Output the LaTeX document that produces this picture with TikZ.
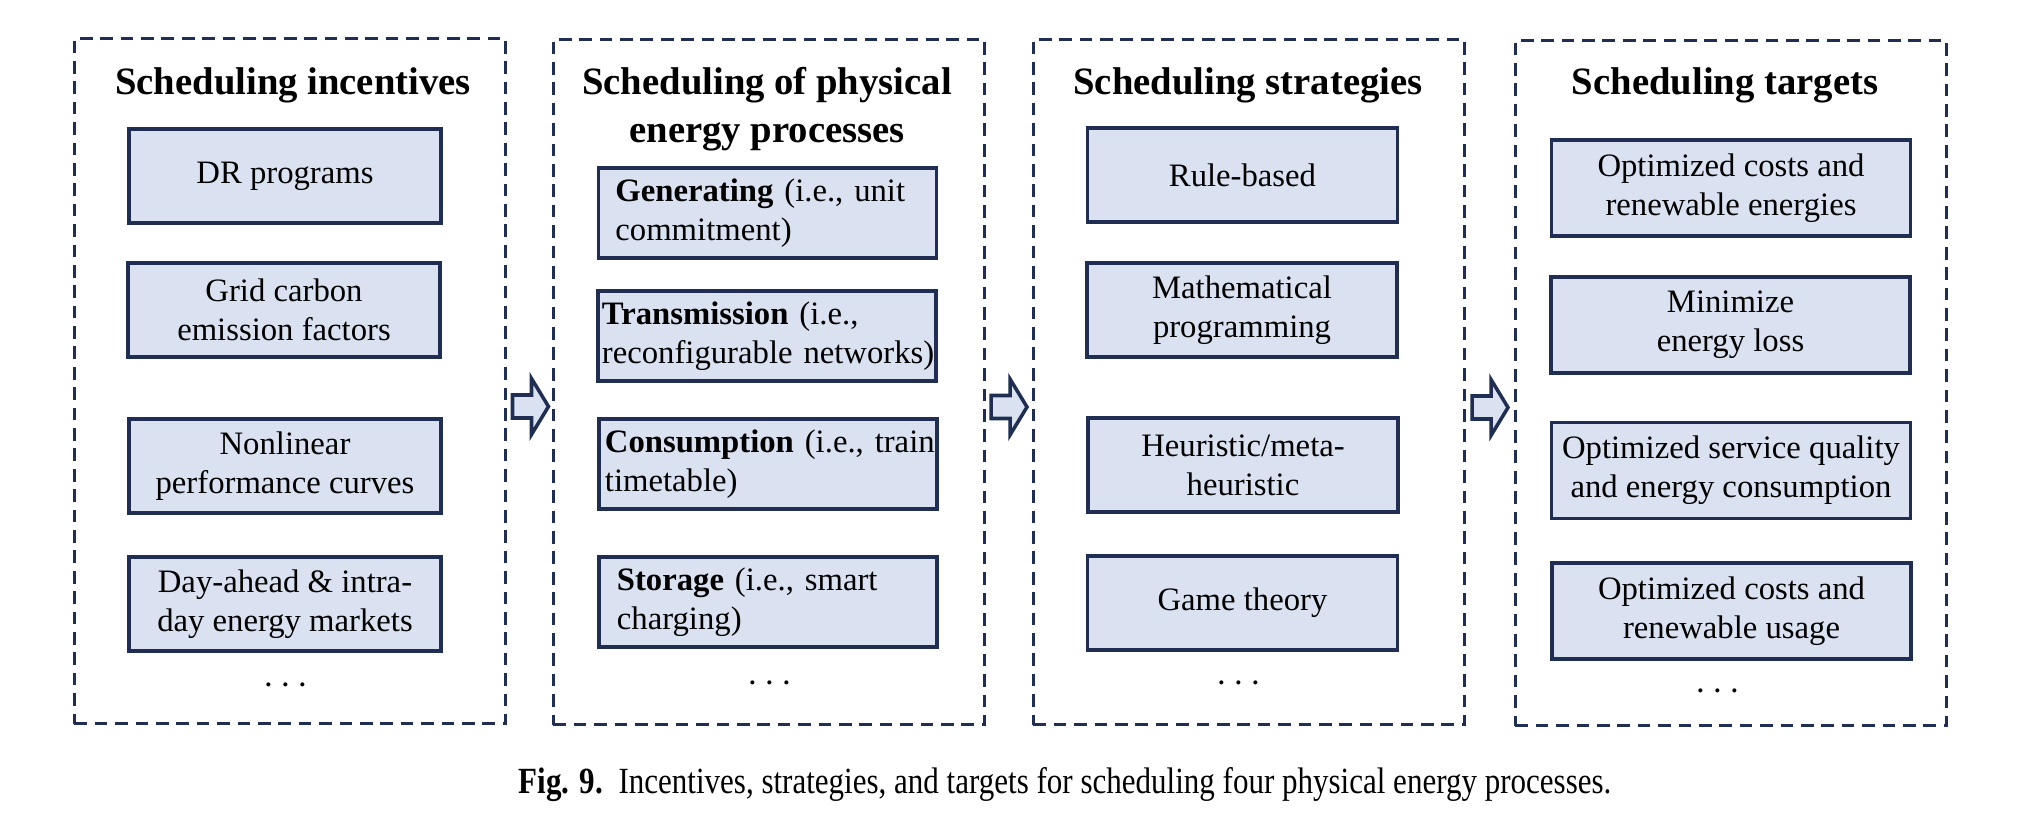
\documentclass[tikz,border=0pt]{standalone}
\usepackage{fontspec}
\setmainfont{Liberation Serif}
\usetikzlibrary{calc}
\definecolor{rahmen}{HTML}{1F2E52}
\definecolor{kasten}{HTML}{DAE2F1}

\begin{document}
\begin{tikzpicture}[x=0.01cm,y=-0.01cm]
  \tikzstyle{feld} = [draw=rahmen, line width=1pt, dash pattern=on 3.6pt off 2.2pt, minimum width=4.31cm, minimum height=6.85cm, anchor=center]
  \tikzstyle{titel} = [font=\fontsize{11}{13.5}\selectfont\bfseries, align=center, anchor=center]
  \tikzstyle{box} = [draw=rahmen, fill=kasten, line width=1pt, align=center, anchor=center, font=\fontsize{9.3}{11}\selectfont, inner sep=0pt]
  \tikzset{pbox/.style={box, align=left, text width=3.36cm, inner xsep=0.01cm, minimum width=3.38cm, minimum height=0.9cm, execute at begin node={\leftskip=#1}}}
  \tikzstyle{pfeil} = [draw=rahmen, fill=kasten, line width=1pt, line join=miter]
  \tikzstyle{punkte} = [font=\fontsize{10.5}{11}\selectfont, anchor=center]
  \useasboundingbox (0,0) rectangle (2021,818);

  % Rahmen
  \node[feld] (p1) at (290,381) {};
  \node[feld] (p2) at (769,382) {};
  \node[feld] (p3) at (1249,382) {};
  \node[feld] (p4) at (1731,383) {};

  % Anreize
  \node[titel] (t1) at (293,85) {Scheduling incentives};
  \node[box, minimum width=3.12cm, minimum height=0.94cm] (i1) at (285,176) {DR programs};
  \node[box, minimum width=3.12cm, minimum height=0.94cm] (i2) at (284,310) {Grid carbon\\emission factors};
  \node[box, minimum width=3.12cm, minimum height=0.94cm] (i3) at (285,466) {Nonlinear\\performance curves};
  \node[box, minimum width=3.12cm, minimum height=0.94cm] (i4) at (285,604) {Day-ahead \& intra-\\day energy markets};
  \node[punkte] (d1) at (286,686) {$\cdots$};

  % Prozesse
  \node[titel] (t2) at (767,109) {Scheduling of physical\\energy processes};
  \node[pbox=0.16cm] (g1) at (767.5,213) {\textbf{Generating} (i.e.,~unit\\commitment)};
  \node[pbox=0.03cm] (g2) at (767,336) {\textbf{Transmission} (i.e.,\\reconfigurable~networks)};
  \node[pbox=0.05cm] (g3) at (768,464) {\textbf{Consumption}~(i.e.,~train\\timetable)};
  \node[pbox=0.17cm] (g4) at (768,602) {\textbf{Storage} (i.e.,~smart\\charging)};
  \node[punkte] (d2) at (770,684) {$\cdots$};

  % Strategien
  \node[titel] (t3) at (1248,85) {Scheduling strategies};
  \node[box, minimum width=3.1cm, minimum height=0.94cm] (s1) at (1242.5,175) {Rule-based};
  \node[box, minimum width=3.1cm, minimum height=0.94cm] (s2) at (1242,310) {Mathematical\\programming};
  \node[box, minimum width=3.1cm, minimum height=0.94cm] (s3) at (1243,465) {Heuristic/meta-\\heuristic};
  \node[box, minimum width=3.1cm, minimum height=0.94cm] (s4) at (1242.5,603) {Game theory};
  \node[punkte] (d3) at (1239,684) {$\cdots$};

  % Ziele
  \node[titel] (t4) at (1725,85) {Scheduling targets};
  \node[box, minimum width=3.59cm, minimum height=0.96cm] (z1) at (1731,188) {Optimized costs and\\renewable energies};
  \node[box, minimum width=3.59cm, minimum height=0.96cm] (z2) at (1730.5,325) {Minimize\\energy loss};
  \node[box, minimum width=3.59cm, minimum height=0.96cm] (z3) at (1731,470.5) {Optimized service quality\\and energy consumption};
  \node[box, minimum width=3.59cm, minimum height=0.96cm] (z4) at (1731.5,611) {Optimized costs and\\renewable usage};
  \node[punkte] (d4) at (1718,692) {$\cdots$};

  % Pfeile
  \coordinate (a1) at ($(p1.east)!0.5!(p2.west)+(1,25)$);
  \coordinate (a2) at ($(p2.east)!0.5!(p3.west)+(0,25)$);
  \coordinate (a3) at ($(p3.east)!0.5!(p4.west)+(0,25)$);
  \foreach \a in {a1,a2,a3}
    \draw[pfeil] ($(\a)+(-18,-11.5)$) -- ($(\a)+(1,-11.5)$) -- ($(\a)+(1,-28)$) -- ($(\a)+(18,0)$)
      -- ($(\a)+(1,28)$) -- ($(\a)+(1,11.5)$) -- ($(\a)+(-18,11.5)$) -- cycle;

  % Bildunterschrift
  \node[anchor=center] (cap) at (1065,785) {\fontsize{10.5}{12}\selectfont\scalebox{0.84}[1]{\textbf{Fig. 9.}\enspace Incentives, strategies, and targets for scheduling four physical energy processes.}};
\end{tikzpicture}
\end{document}
